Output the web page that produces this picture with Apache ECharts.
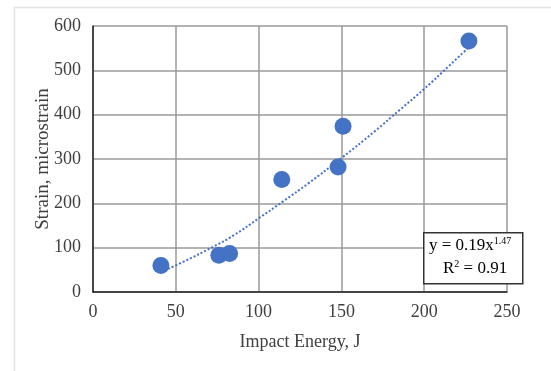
<!DOCTYPE html>
<html>
<head>
<meta charset="utf-8">
<script src="https://cdn.jsdelivr.net/npm/echarts@6/dist/echarts.min.js"></script>
<style>html,body{margin:0;padding:0;background:#fff}#c{width:551px;height:371px}</style>
</head>
<body>
<div id="c"></div>
<script>
const energy = [41, 76, 82.5, 114, 148, 151, 227];
const strain = [60, 83, 87, 254, 282, 374, 566];
const trendX = [41, 55, 72.5, 85, 100, 115, 130, 150, 170, 185, 200, 215, 227];
const trendY = [45, 69, 102, 128, 166, 205, 245, 302, 362, 410, 458, 510, 552];
const xTicks = [0, 50, 100, 150, 200, 250];
const yTicks = [0, 100, 200, 300, 400, 500, 600];
const eqLine1 = ['y = 0.19x', '1.47'];
const eqLine2 = ['R', '2', ' = 0.91'];

const chart = echarts.init(document.getElementById('c'), null, {renderer: 'canvas'});
const serif = 'Liberation Serif';
chart.setOption({
  animation: false,
  grid: {left: 93, right: 44, top: 26, bottom: 79},
  xAxis: {
    type: 'value', min: xTicks[0], max: xTicks[xTicks.length - 1], interval: 50,
    name: 'Impact Energy, J', nameLocation: 'middle', nameGap: 41, nameMoveOverlap: false,
    nameTextStyle: {fontFamily: serif, fontSize: 18, color: '#404040'},
    axisLine: {show: true, lineStyle: {color: '#222', width: 1.5}},
    axisTick: {show: false},
    axisLabel: {fontFamily: serif, fontSize: 18, color: '#404040', margin: 11},
    splitLine: {show: true, lineStyle: {color: '#9a9a9a', width: 1.5}}
  },
  yAxis: {
    type: 'value', min: yTicks[0], max: yTicks[yTicks.length - 1], interval: 100,
    name: 'Strain, microstrain', nameLocation: 'middle', nameGap: 40, nameMoveOverlap: false,
    nameTextStyle: {fontFamily: serif, fontSize: 19, color: '#404040'},
    axisLine: {show: true, lineStyle: {color: '#222', width: 1.5}},
    axisTick: {show: false},
    axisLabel: {fontFamily: serif, fontSize: 18, color: '#404040', margin: 12},
    splitLine: {show: true, lineStyle: {color: '#9a9a9a', width: 1.5}}
  },
  series: [
    {
      type: 'line', data: trendX.map((x, i) => [x, trendY[i]]), smooth: true,
      showSymbol: false, symbol: 'none',
      lineStyle: {color: '#4472C4', width: 2, type: [2, 2]}, z: 2
    },
    {
      type: 'scatter', data: energy.map((x, i) => [x, strain[i]]),
      symbolSize: 17, itemStyle: {color: '#4472C4', opacity: 1}, z: 3
    }
  ],
  graphic: [
    {type: 'rect', left: 12, top: 5, shape: {width: 560, height: 400}, style: {fill: 'none', stroke: '#e2e2e2', lineWidth: 1.5}, silent: true},
    {type: 'rect', left: 423, top: 232, z: 10, shape: {width: 99, height: 51}, style: {fill: '#fff', stroke: '#333', lineWidth: 1.5}},
    {type: 'text', left: 429, top: 236, z: 11, style: {
      text: '{n|' + eqLine1[0] + '}{s|' + eqLine1[1] + '}',
      rich: {n: {fontFamily: serif, fontSize: 17, color: '#404040'}, s: {fontFamily: serif, fontSize: 10, color: '#404040', verticalAlign: 'top', padding: [0,0,9,0]}}
    }},
    {type: 'text', left: 443, top: 259, z: 11, style: {
      text: '{n|' + eqLine2[0] + '}{s|' + eqLine2[1] + '}{n|' + eqLine2[2] + '}',
      rich: {n: {fontFamily: serif, fontSize: 17, color: '#404040'}, s: {fontFamily: serif, fontSize: 10, color: '#404040', verticalAlign: 'top', padding: [0,0,9,0]}}
    }}
  ]
});
</script>
</body>
</html>
